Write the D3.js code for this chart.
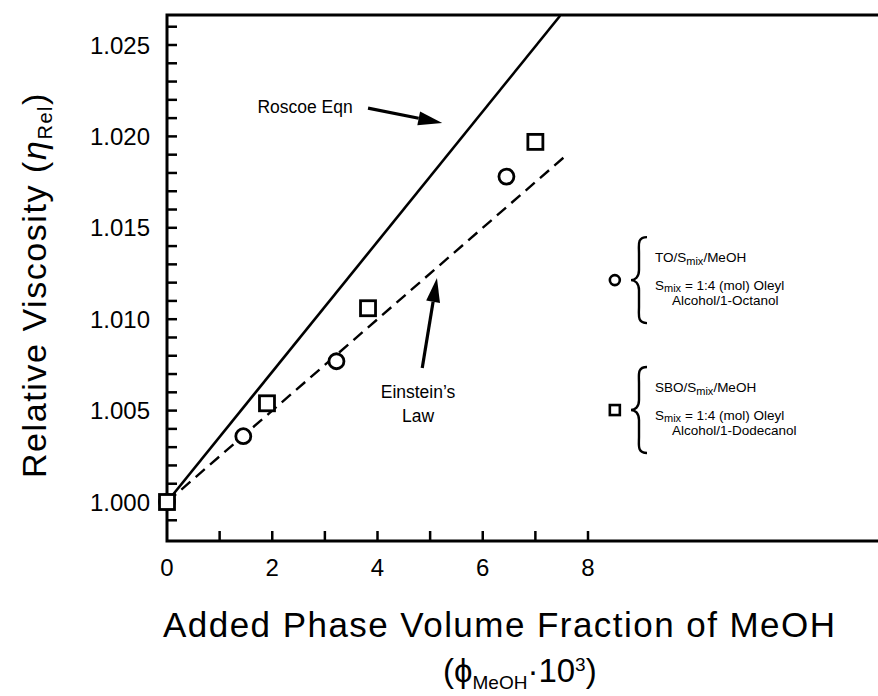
<!DOCTYPE html>
<html>
<head>
<meta charset="utf-8">
<script src="https://cdn.jsdelivr.net/npm/d3@7"></script>
<style>
  body { margin: 0; background: #fff; }
  text { font-family: "Liberation Sans", Arial, sans-serif; fill: #000; }
</style>
</head>
<body>
<div id="chart"></div>
<script>
"use strict";

// axis ticks
const xTickLabels = [0, 2, 4, 6, 8];
const xMinorTicks = [1, 2, 3, 4, 5, 6, 7, 8];
const yTickLabels = [1.000, 1.005, 1.010, 1.015, 1.020, 1.025];
const yMinorTicks = [0.999, 1.001, 1.002, 1.003, 1.004, 1.005, 1.006, 1.007, 1.008, 1.009,
  1.010, 1.011, 1.012, 1.013, 1.014, 1.015, 1.016, 1.017, 1.018, 1.019,
  1.020, 1.021, 1.022, 1.023, 1.024, 1.025, 1.026];

// TO/Smix/MeOH (circles)
const toPhi = [0, 1.45, 3.22, 6.45];
const toEta = [1.000, 1.0036, 1.0077, 1.0178];

// SBO/Smix/MeOH (squares)
const sboPhi = [0, 1.9, 3.82, 7.0];
const sboEta = [1.000, 1.0054, 1.0106, 1.0197];

// model lines
const roscoePhi = [0, 7.47];
const roscoeEta = [1.000, 1.0266];
const einsteinPhi = [0, 7.6];
const einsteinEta = [1.000, 1.0190];

const width = 878;
const height = 696;
const frame = { left: 167, top: 15, right: 878, bottom: 541 };

const x = d3.scaleLinear().domain([0, 8]).range([167, 588]);
const y = d3.scaleLinear().domain([1.000, 1.025]).range([502, 45]);

const svg = d3.select('#chart')
  .append('svg')
  .attr('width', width)
  .attr('height', height);

function zip(xs, ys) {
  return xs.map((v, i) => ({ x: v, y: ys[i] }));
}

// stretch a text (with tspans) to a given length using letter-spacing
function fitLength(sel, target) {
  let node = sel.node();
  let len = node.getComputedTextLength();
  let n = node.textContent.length;
  sel.style('letter-spacing', ((target - len) / n) + 'px');
}

// frame (open on the right)
svg.append('path')
  .attr('d', 'M' + frame.right + ',' + frame.top +
    'H' + frame.left + 'V' + frame.bottom + 'H' + frame.right)
  .attr('fill', 'none')
  .attr('stroke', '#000')
  .attr('stroke-width', 3);

// y ticks
svg.append('g').selectAll('line')
  .data(yMinorTicks)
  .join('line')
  .attr('x1', frame.left)
  .attr('x2', frame.left + 10)
  .attr('y1', d => y(d))
  .attr('y2', d => y(d))
  .attr('stroke', '#000')
  .attr('stroke-width', 2.5);

svg.append('g').selectAll('text')
  .data(yTickLabels)
  .join('text')
  .attr('x', 150)
  .attr('y', d => y(d))
  .attr('dy', '0.36em')
  .attr('text-anchor', 'end')
  .style('font-size', '24px')
  .text(d => d3.format('.3f')(d));

// x ticks
svg.append('g').selectAll('line')
  .data(xMinorTicks)
  .join('line')
  .attr('x1', d => x(d))
  .attr('x2', d => x(d))
  .attr('y1', frame.bottom)
  .attr('y2', frame.bottom - 10)
  .attr('stroke', '#000')
  .attr('stroke-width', 2.5);

svg.append('g').selectAll('text')
  .data(xTickLabels)
  .join('text')
  .attr('x', d => x(d))
  .attr('y', 576)
  .attr('text-anchor', 'middle')
  .style('font-size', '24px')
  .text(d => d);

// axis titles
svg.append('text')
  .attr('x', 163)
  .attr('y', 637)
  .attr('textLength', 672)
  .attr('lengthAdjust', 'spacing')
  .style('font-size', '35px')
  .text('Added Phase Volume Fraction of MeOH');

let sub = svg.append('text')
  .attr('x', 443)
  .attr('y', 682)
  .style('font-size', '33px');
sub.append('tspan').text('(\u03d5');
sub.append('tspan').attr('dy', 7).style('font-size', '19px').text('MeOH');
sub.append('tspan').attr('dy', -7).text('\u00b710');
sub.append('tspan').attr('dy', -11).style('font-size', '19px').text('3');
sub.append('tspan').attr('dy', 11).text(')');

let ytitle = svg.append('text')
  .attr('transform', 'translate(46, 285) rotate(-90)')
  .attr('text-anchor', 'middle')
  .style('font-size', '34px');
ytitle.append('tspan').text('Relative Viscosity (');
ytitle.append('tspan').style('font-style', 'italic').text('\u03b7');
ytitle.append('tspan').attr('dy', 6).style('font-size', '20px').text('Rel');
ytitle.append('tspan').attr('dy', -6).text(')');
fitLength(ytitle, 386);

// model lines
const line = d3.line().x(d => x(d.x)).y(d => y(d.y));

svg.append('path')
  .datum(zip(roscoePhi, roscoeEta))
  .attr('d', line)
  .attr('fill', 'none')
  .attr('stroke', '#000')
  .attr('stroke-width', 2.6);

svg.append('path')
  .datum(zip(einsteinPhi, einsteinEta))
  .attr('d', line)
  .attr('fill', 'none')
  .attr('stroke', '#000')
  .attr('stroke-width', 2.4)
  .attr('stroke-dasharray', '12,7');

// data markers
svg.append('g').selectAll('circle')
  .data(zip(toPhi, toEta))
  .join('circle')
  .attr('cx', d => x(d.x))
  .attr('cy', d => y(d.y))
  .attr('r', 7.5)
  .attr('fill', '#fff')
  .attr('stroke', '#000')
  .attr('stroke-width', 2.8);

svg.append('g').selectAll('rect')
  .data(zip(sboPhi, sboEta))
  .join('rect')
  .attr('x', d => x(d.x) - 7.5)
  .attr('y', d => y(d.y) - 7.5)
  .attr('width', 15)
  .attr('height', 15)
  .attr('fill', '#fff')
  .attr('stroke', '#000')
  .attr('stroke-width', 2.8);

// annotations with arrows
function arrow(x0, y0, x1, y1) {
  let px0 = x(x0), py0 = y(y0), px1 = x(x1), py1 = y(y1);
  let a = Math.atan2(py1 - py0, px1 - px0);
  let len = 24, half = 7;
  let bx = px1 - len * Math.cos(a), by = py1 - len * Math.sin(a);
  svg.append('line')
    .attr('x1', px0).attr('y1', py0)
    .attr('x2', bx).attr('y2', by)
    .attr('stroke', '#000')
    .attr('stroke-width', 3.2);
  svg.append('path')
    .attr('d', 'M' + px1 + ',' + py1 +
      'L' + (bx - half * Math.sin(a)) + ',' + (by + half * Math.cos(a)) +
      'L' + (bx + half * Math.sin(a)) + ',' + (by - half * Math.cos(a)) + 'Z')
    .attr('fill', '#000');
}

svg.append('text')
  .attr('x', x(3.53))
  .attr('y', y(1.0213))
  .attr('text-anchor', 'end')
  .style('font-size', '17.5px')
  .text('Roscoe Eqn');
arrow(3.82, 1.02155, 5.23, 1.02073);

svg.append('text')
  .attr('x', x(4.77))
  .attr('y', y(1.0057))
  .attr('text-anchor', 'middle')
  .style('font-size', '17.5px')
  .text('Einstein\u2019s');
svg.append('text')
  .attr('x', x(4.77))
  .attr('y', y(1.0044))
  .attr('text-anchor', 'middle')
  .style('font-size', '17.5px')
  .text('Law');
arrow(4.85, 1.00733, 5.13, 1.01225);

// legend
function brace(px, yTop, yBot) {
  let mid = (yTop + yBot) / 2;
  let w = 16;
  return 'M' + (px + w) + ',' + yTop +
    'C' + (px + 6) + ',' + yTop + ' ' + (px + 8) + ',' + (yTop + 8) + ' ' + (px + 8) + ',' + (yTop + 16) +
    'L' + (px + 8) + ',' + (mid - 10) +
    'C' + (px + 8) + ',' + (mid - 3) + ' ' + (px + 4) + ',' + mid + ' ' + px + ',' + mid +
    'C' + (px + 4) + ',' + mid + ' ' + (px + 8) + ',' + (mid + 3) + ' ' + (px + 8) + ',' + (mid + 10) +
    'L' + (px + 8) + ',' + (yBot - 16) +
    'C' + (px + 8) + ',' + (yBot - 8) + ' ' + (px + 6) + ',' + yBot + ' ' + (px + w) + ',' + yBot;
}

function legendEntry(symbol, ly, title, line3) {
  let cy = y(ly);
  let g = svg.append('g');
  if (symbol === 'circle') {
    g.append('circle')
      .attr('cx', x(8.51)).attr('cy', cy).attr('r', 5)
      .attr('fill', '#fff').attr('stroke', '#000').attr('stroke-width', 2.6);
  } else {
    g.append('rect')
      .attr('x', x(8.51) - 5).attr('y', cy - 5)
      .attr('width', 10).attr('height', 10)
      .attr('fill', '#fff').attr('stroke', '#000').attr('stroke-width', 2.6);
  }
  g.append('path')
    .attr('d', brace(631, cy - 43, cy + 43))
    .attr('fill', 'none')
    .attr('stroke', '#000')
    .attr('stroke-width', 2.4);

  let t1 = g.append('text').attr('x', 655).attr('y', cy - 18).style('font-size', '13.5px');
  t1.append('tspan').text(title + '/S');
  t1.append('tspan').attr('dy', 3).style('font-size', '11px').text('mix');
  t1.append('tspan').attr('dy', -3).text('/MeOH');

  let t2 = g.append('text').attr('x', 655).attr('y', cy + 10).style('font-size', '13.5px');
  t2.append('tspan').text('S');
  t2.append('tspan').attr('dy', 2).style('font-size', '11px').text('mix');
  t2.append('tspan').attr('dy', -2).text('  = 1:4 (mol) Oleyl');

  g.append('text')
    .attr('x', 672).attr('y', cy + 25)
    .style('font-size', '13.5px')
    .text(line3);
}

legendEntry('circle', 1.01214, 'TO', 'Alcohol/1-Octanol');
legendEntry('square', 1.00503, 'SBO', 'Alcohol/1-Dodecanol');
</script>
</body>
</html>
